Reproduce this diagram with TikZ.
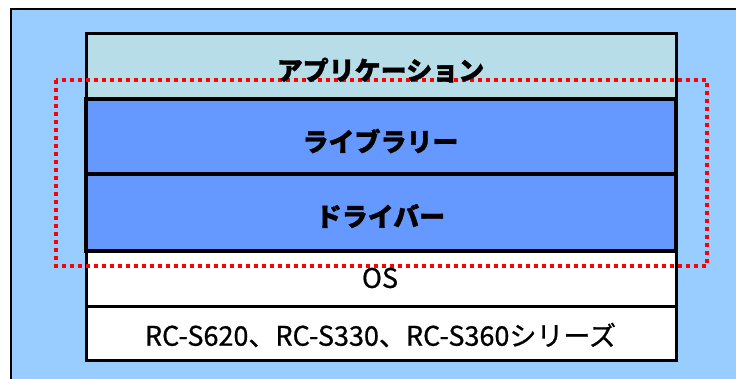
\documentclass[tikz,border=0pt]{standalone}
\usepackage{fontspec}
\newfontfamily\jpfont{Noto Sans CJK JP}
\newfontfamily\jpheavy{Noto Sans CJK JP}[UprightFeatures={FakeBold=1.2}, BoldFeatures={FakeBold=1.2}]
\newfontfamily\jpmedium{Noto Sans CJK JP}[FakeBold=0.8]
\usepackage{tikz}

\definecolor{bgblue}{HTML}{99CCFF}
\definecolor{appteal}{HTML}{B7DEE8}
\definecolor{midblue}{HTML}{6699FF}

\tikzset{
  layer/.style={draw=black, line width=3pt, rectangle, inner sep=0pt,
    minimum width=590pt},
  boldlayer/.style={layer, line width=3.5pt, fill=midblue},
  bigtext/.style={font=\jpheavy\bfseries\fontsize{26}{26}\selectfont, inner sep=0pt},
  smalltext/.style={font=\jpmedium\fontsize{27}{27}\selectfont, inner sep=0pt}
}

\begin{document}
\begin{tikzpicture}[x=1pt, y=-1pt]
    \useasboundingbox (0,0) rectangle (736,378);
    \begin{scope}
        \clip (0,0) rectangle (736,378);
        \draw[line width=2.5pt, fill=bgblue] (11,9) rectangle (745,390);
    \end{scope}

    \node[layer, fill=appteal, minimum height=66pt] (app) at (381,66) {};
    \node[layer, fill=white, minimum height=55pt] (os) at (381,278.5) {};
    \node[layer, fill=white, minimum height=54pt] (rc) at (381,333) {};
    \node[boldlayer, minimum height=75pt] (lib) at (381,136.5) {};
    \node[boldlayer, minimum height=77pt] (drv) at (381,212.5) {};

    \draw[red, line width=4pt, dash pattern=on 4pt off 4pt] (56,80) rectangle (707,266);

    \node[bigtext] (apptext) at (380.5,70) {アプリケーション};
    \node[bigtext] (libtext) at (380.5,141) {ライブラリー};
    \node[bigtext] (drvtext) at (380.5,216) {ドライバー};
    \node[smalltext] (ostext) at (380,278) {OS};
    \node[smalltext] (rctext) at (380.5,335) {RC-S620、RC-S330、RC-S360シリーズ};
\end{tikzpicture}
\end{document}
